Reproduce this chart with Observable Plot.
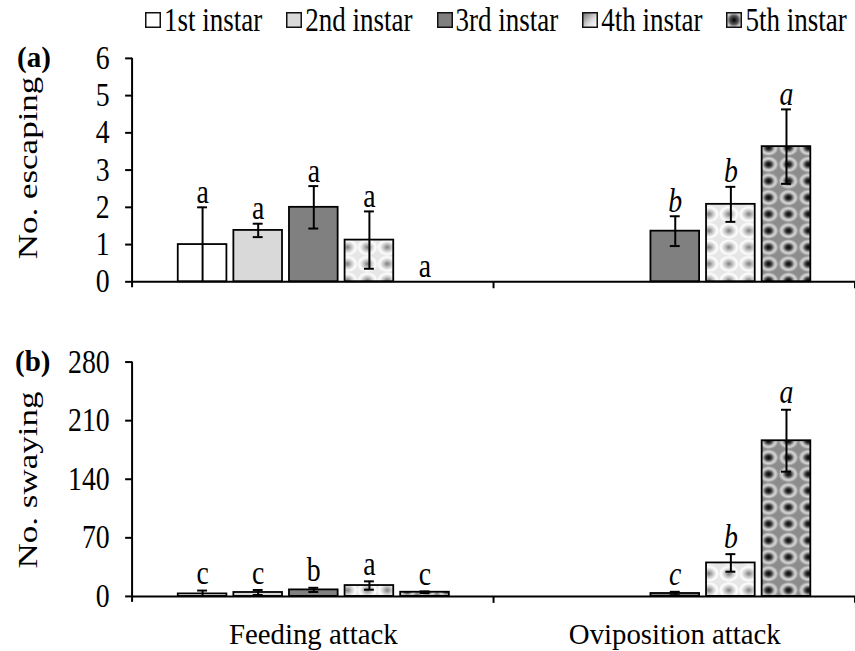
<!DOCTYPE html>
<html><head><meta charset="utf-8">
<script src="https://cdn.jsdelivr.net/npm/d3@7"></script>
<script src="https://cdn.jsdelivr.net/npm/@observablehq/plot@0.6"></script>
<style>
html,body{margin:0;padding:0;background:#fff;overflow:hidden}
#fig{position:relative;width:855px;height:651px;overflow:hidden;font-family:"Liberation Serif","Times New Roman",serif;color:#000}
#legend{position:absolute;left:145px;top:0;height:40px;display:flex;align-items:center;gap:24px;font-size:27px;white-space:nowrap}
.item{display:flex;align-items:center}
.item svg{margin-right:3px;display:block}
.item span{display:inline-block;transform:scaleY(1.25);line-height:1}
.tag{position:absolute;font-weight:bold;font-size:29px;line-height:1}
.ytitle{position:absolute;font-size:28px;white-space:nowrap;line-height:1;transform:translate(-50%,-50%) rotate(-90deg) scaleX(1.25)}
.panel{position:absolute;left:0}
</style></head>
<body>
<svg width="0" height="0" style="position:absolute">
  <defs>
    <radialGradient id="g4">
      <stop offset="0" stop-color="#7c7c7c"/>
      <stop offset="0.45" stop-color="#cdcdcd"/>
      <stop offset="0.8" stop-color="#ffffff"/>
      <stop offset="1" stop-color="#eeeeee"/>
    </radialGradient>
    <pattern id="pat4" patternUnits="userSpaceOnUse" width="20" height="16.7">
      <rect width="20" height="16.7" fill="#e6e6e6"/>
      <ellipse cx="10" cy="8.35" rx="10" ry="8.35" fill="url(#g4)"/>
    </pattern>
    <radialGradient id="g5">
      <stop offset="0" stop-color="#000000"/>
      <stop offset="0.3" stop-color="#3a3a3a"/>
      <stop offset="0.55" stop-color="#b0b0b0"/>
      <stop offset="0.72" stop-color="#dadada"/>
      <stop offset="1" stop-color="#8c8c8c"/>
    </radialGradient>
    <pattern id="pat5" patternUnits="userSpaceOnUse" width="20" height="16.7">
      <rect width="20" height="16.7" fill="#8c8c8c"/>
      <ellipse cx="10" cy="8.35" rx="10" ry="8.35" fill="url(#g5)"/>
    </pattern>
    <linearGradient id="lg4" x1="0" y1="0" x2="1" y2="1">
      <stop offset="0" stop-color="#6e6e6e"/>
      <stop offset="0.6" stop-color="#e0e0e0"/>
      <stop offset="1" stop-color="#ffffff"/>
    </linearGradient>
    <radialGradient id="lg5">
      <stop offset="0" stop-color="#000"/>
      <stop offset="0.6" stop-color="#555"/>
      <stop offset="1" stop-color="#cfcfcf"/>
    </radialGradient>
  </defs>
</svg>
<div id="fig">
  <div id="legend"></div>
  <div class="tag" style="left:17px;top:43px">(a)</div>
  <div class="tag" style="left:15px;top:347px">(b)</div>
  <div class="ytitle" style="left:28px;top:168px">No. escaping</div>
  <div class="ytitle" style="left:28px;top:480px">No. swaying</div>
  <div class="panel" id="pa" style="top:40px"></div>
  <div class="panel" id="pb" style="top:300px"></div>
</div>
<script>
// ---- data ----
const instars = ["1st instar", "2nd instar", "3rd instar", "4th instar", "5th instar"];
const groups = ["Feeding attack", "Oviposition attack"];

const escFeedMean = [1.0, 1.38, 2.0, 1.12, 0];
const escFeedSE   = [1.0, 0.18, 0.57, 0.77, 0];
const escFeedSig  = ["a", "a", "a", "a", "a"];
const escOviMean  = [0, 0, 1.36, 2.08, 3.63];
const escOviSE    = [0, 0, 0.40, 0.47, 1.0];
const escOviSig   = ["", "", "b", "b", "a"];

const swayFeedMean = [3, 4.7, 7.8, 13, 5];
const swayFeedSE   = [4, 3, 2.5, 5, 1];
const swayFeedSig  = ["c", "c", "b", "a", "c"];
const swayOviMean  = [0, 0, 3.5, 40, 186];
const swayOviSE    = [0, 0, 2, 10.5, 37];
const swayOviSig   = ["", "", "c", "b", "a"];

const escTicks = [0, 1, 2, 3, 4, 5, 6];
const swayTicks = [0, 70, 140, 210, 280];

const fills = ["#ffffff", "#d9d9d9", "#808080", "url(#pat4)", "url(#pat5)"];
const swatchFills = ["#ffffff", "#d9d9d9", "#808080", "url(#lg4)", "url(#lg5)"];

const FONT = '"Liberation Serif", "Times New Roman", serif';

function rows(group, mean, se, sig) {
  return instars.map((s, i) => ({
    group, instar: s, mean: mean[i], se: se[i],
    lo: Math.max(0, mean[i] - se[i]), hi: mean[i] + se[i], sig: sig[i]
  }));
}

const escData = [...rows(groups[0], escFeedMean, escFeedSE, escFeedSig), ...rows(groups[1], escOviMean, escOviSE, escOviSig)];
const swayData = [...rows(groups[0], swayFeedMean, swayFeedSE, swayFeedSig), ...rows(groups[1], swayOviMean, swayOviSE, swayOviSig)];

// legend
const legend = document.getElementById("legend");
instars.forEach((s, i) => {
  const it = document.createElement("div");
  it.className = "item";
  it.innerHTML = `<svg width="16" height="16"><rect x="0.75" y="0.75" width="14.5" height="14.5" fill="${swatchFills[i]}" stroke="#111" stroke-width="1.5"/></svg><span>${s}</span>`;
  legend.appendChild(it);
});

function stretch(t, k) {
  const tr = t.getAttribute("transform") || "";
  if (tr.includes("rotate")) return;
  const x = +t.getAttribute("x") || 0, y = +t.getAttribute("y") || 0;
  t.setAttribute("transform", `${tr} translate(${x},${y}) scale(1,${k}) translate(${-x},${-y})`);
}

function panel({data, yMax, yTicks, height, marginTop, marginBottom, showFx, letterDy}) {
  const withErr = data.filter(d => d.se > 0);
  const plot = Plot.plot({
    width: 861, height, marginLeft: 133, marginRight: 0, marginTop, marginBottom,
    style: {fontFamily: FONT, fontSize: "28px", background: "transparent", color: "black", overflow: "visible"},
    fx: {domain: groups, padding: 0, label: null, axis: null},
    x: {domain: instars, paddingInner: 0.133, paddingOuter: 0.788, axis: null},
    y: {domain: [0, yMax], axis: null},
    color: {domain: instars, range: fills},
    marks: [
      Plot.barY(data, {fx: "group", x: "instar", y: "mean", fill: "instar", stroke: "black", strokeWidth: 1.8}),
      Plot.ruleY([0], {stroke: "black", strokeWidth: 2}),
      Plot.ruleX(withErr, {fx: "group", x: "instar", y1: "lo", y2: "hi", stroke: "black", strokeWidth: 2}),
      Plot.tickY(withErr, {fx: "group", x: "instar", y: "hi", insetLeft: 19.5, insetRight: 19.5, stroke: "black", strokeWidth: 2}),
      Plot.tickY(withErr.filter(d => d.lo > 0), {fx: "group", x: "instar", y: "lo", insetLeft: 19.5, insetRight: 19.5, stroke: "black", strokeWidth: 2}),
      Plot.text(data.filter(d => d.sig && d.group === groups[0]), {fx: "group", x: "instar", y: "hi", text: "sig", dy: letterDy, fontSize: 28, fill: "black"}),
      Plot.text(data.filter(d => d.sig && d.group === groups[1]), {fx: "group", x: "instar", y: "hi", text: "sig", dy: letterDy, fontSize: 28, fontStyle: "italic", fill: "black"}),
      Plot.axisY({ticks: yTicks, tickFormat: d => String(d), tickSize: 7, tickPadding: 16, fontSize: 28, label: null, strokeWidth: 2}),
      showFx ? Plot.axisFx({anchor: "bottom", tickSize: 0, tickPadding: 27, fontSize: 29, label: null}) : null
    ]
  });
  // vertical stretch of text like the reference
  plot.querySelectorAll("text").forEach(t => {
    if (groups.includes(t.textContent)) return;
    stretch(t, 1.18);
  });
  // y-axis line and category boundary ticks
  const ys = plot.scale("y"), fxs = plot.scale("fx");
  const y0 = ys.apply(0), yTop = ys.apply(yMax);
  const xs = groups.map(g => fxs.apply(g));
  xs.push(fxs.apply(groups[groups.length - 1]) + fxs.bandwidth);
  const g = d3.select(plot).append("g").attr("stroke", "black").attr("stroke-width", 2);
  g.append("line").attr("x1", xs[0]).attr("x2", xs[0]).attr("y1", yTop).attr("y2", y0 + 6);
  xs.slice(1).forEach(x => g.append("line").attr("x1", x).attr("x2", x).attr("y1", y0).attr("y2", y0 + 7));
  return plot;
}

document.getElementById("pa").appendChild(panel({
  data: escData, yMax: 6, yTicks: escTicks, height: 260, marginTop: 18, marginBottom: 17, showFx: false, letterDy: -15
}));
document.getElementById("pb").appendChild(panel({
  data: swayData, yMax: 280, yTicks: swayTicks, height: 351, marginTop: 62, marginBottom: 53, showFx: true, letterDy: -17
}));
</script>
</body></html>
